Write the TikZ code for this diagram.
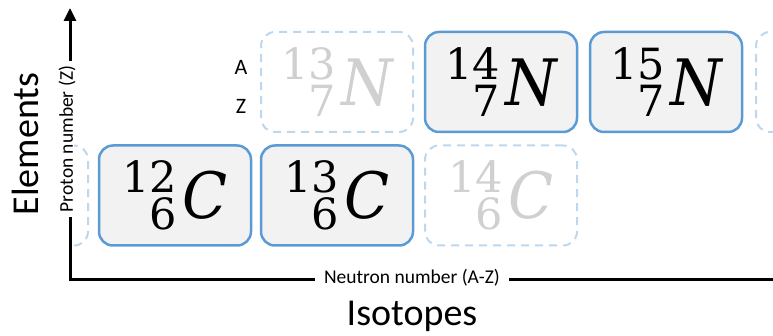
\documentclass[tikz,border=0pt]{standalone}
\usepackage{fontspec}
\setmainfont{Carlito}
\newfontfamily\isofont{DejaVu Serif}
\newfontfamily\isoletter[FakeStretch=0.92]{DejaVu Serif}
\usetikzlibrary{arrows.meta}
\definecolor{boxblue}{HTML}{5B9BD5}
\definecolor{ghostblue}{HTML}{BDD7EE}
\definecolor{boxfill}{HTML}{F2F2F2}
\definecolor{ghosttext}{HTML}{D0D0D0}
\newcommand\isot[3]{{\isofont\fontsize{43}{37}\selectfont\vbox{\baselineskip=37pt\lineskiplimit=-100pt\halign{\hfil##\cr#1\cr#2\cr}}\kern5pt\raisebox{11pt}{\isoletter\fontsize{64}{64}\selectfont\itshape #3}}}
\tikzset{
  isobox/.style={draw=boxblue, line width=2.5pt, fill=boxfill, rounded corners=14pt,
    minimum width=152pt, minimum height=100pt, inner sep=0pt, text=black},
  ghostbox/.style={draw=ghostblue, line width=2pt, dash pattern=on 8pt off 6pt,
    rounded corners=14pt, minimum width=152pt, minimum height=100pt, inner sep=0pt, text=ghosttext},
  axis/.style={line width=3pt, {Triangle[length=13pt,width=12pt]}-{Triangle[length=13pt,width=12pt]}},
  axlabel/.style={fill=white, font=\fontsize{19.5}{19.5}\selectfont},
  biglabel/.style={font=\fontsize{38}{38}\selectfont},
  azlabel/.style={font=\fontsize{22}{22}\selectfont}
}
\begin{document}
\begin{tikzpicture}[x=1pt,y=-1pt]
\useasboundingbox (0,0) rectangle (773,336);
% axes
\coordinate (O) at (70,280);
\coordinate (Ytop) at (70,8);
\coordinate (Xend) at (788,280);
\draw[axis] (Ytop) -- (O) -- (Xend);
\node[axlabel, rotate=90, inner xsep=5pt, inner ysep=1pt] (pz) at (67,139) {Proton number (Z)};
\node[axlabel, inner xsep=9pt, inner ysep=2pt] (nz) at (412,278) {Neutron number (A-Z)};
\node[biglabel, rotate=90, anchor=base] (el) at (38,144) {Elements};
\node[biglabel, anchor=base] (iso) at (412,325) {Isotopes};
% partial ghost boxes
\begin{scope}
\clip (74,0) rectangle (773,336);
\node[ghostbox] (cleft) at (12,195.5) {};
\node[ghostbox] (nright) at (832,82) {};
\end{scope}
% boxes
\node[ghostbox] (n13) at (337,82) {\isot{13}{7}{N}};
\node[isobox] (n14) at (501,82) {\isot{14}{7}{N}};
\node[isobox] (n15) at (666,82) {\isot{15}{7}{N}};
\node[isobox] (c12) at (175,195.5) {\isot{12}{6}{C}};
\node[isobox] (c13) at (337,195.5) {\isot{13}{6}{C}};
\node[ghostbox] (c14) at (501,195.5) {\isot{14}{6}{C}};
\node[azlabel] (A) at (241,67) {A};
\node[azlabel] (Z) at (241,106) {Z};
\end{tikzpicture}
\end{document}
